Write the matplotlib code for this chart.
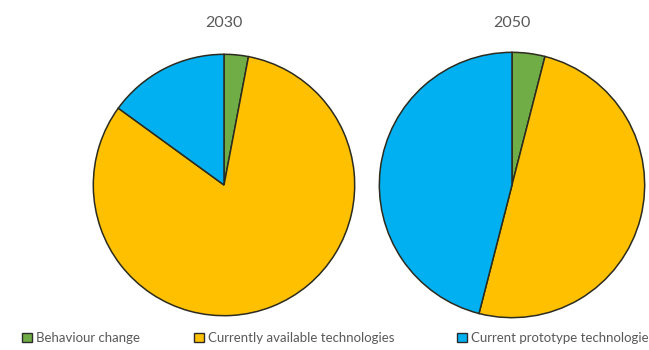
import matplotlib
matplotlib.use("Agg")
import matplotlib.pyplot as plt
from matplotlib.patches import Patch

plt.rcParams['font.family'] = ['Lato', 'DejaVu Sans']

categories = ["Behaviour change", "Currently available technologies",
              "Current prototype technologies"]
years = ["2030", "2050"]
shares_2030 = [3, 82, 15]
shares_2050 = [4, 50, 46]
colors = ["#70AD47", "#FFC000", "#00B0F0"]
text_color = "#595959"

W, H = 649, 350
fig = plt.figure(figsize=(W / 100, H / 100), dpi=100)
fig.patch.set_facecolor("white")

# pie placement in pixels: (center x, center y from top, radius)
placements = [(224, 185, 132), (512, 185, 134)]

for year, shares, (cx, cy, r) in zip(years, [shares_2030, shares_2050], placements):
    ax = fig.add_axes([(cx - r) / W, (H - cy - r) / H, 2 * r / W, 2 * r / H])
    ax.pie(shares, colors=colors, startangle=90, counterclock=False,
           wedgeprops=dict(edgecolor="#2b2b1f", linewidth=1.1))
    ax.set_xlim(-1.01, 1.01)
    ax.set_ylim(-1.01, 1.01)
    ax.set_aspect("equal")
    ax.axis("off")
    fig.text(cx / W, 1 - 23 / H, year, ha="center", va="center",
             fontsize=11.5, color=text_color)

# legend entries placed individually along the bottom
legend_x = [22, 194, 457]
for name, col, x in zip(categories, colors, legend_x):
    handle = Patch(facecolor=col, edgecolor="#2b2b2b", linewidth=1.0)
    fig.legend([handle], [name], loc="center left",
               bbox_to_anchor=(x / W, 1 - 338 / H), frameon=False,
               fontsize=9.5, labelcolor=text_color, handlelength=0.75,
               handleheight=0.75, handletextpad=0.3, borderpad=0,
               borderaxespad=0)

fig.savefig("out.png", dpi=100, facecolor="white")
